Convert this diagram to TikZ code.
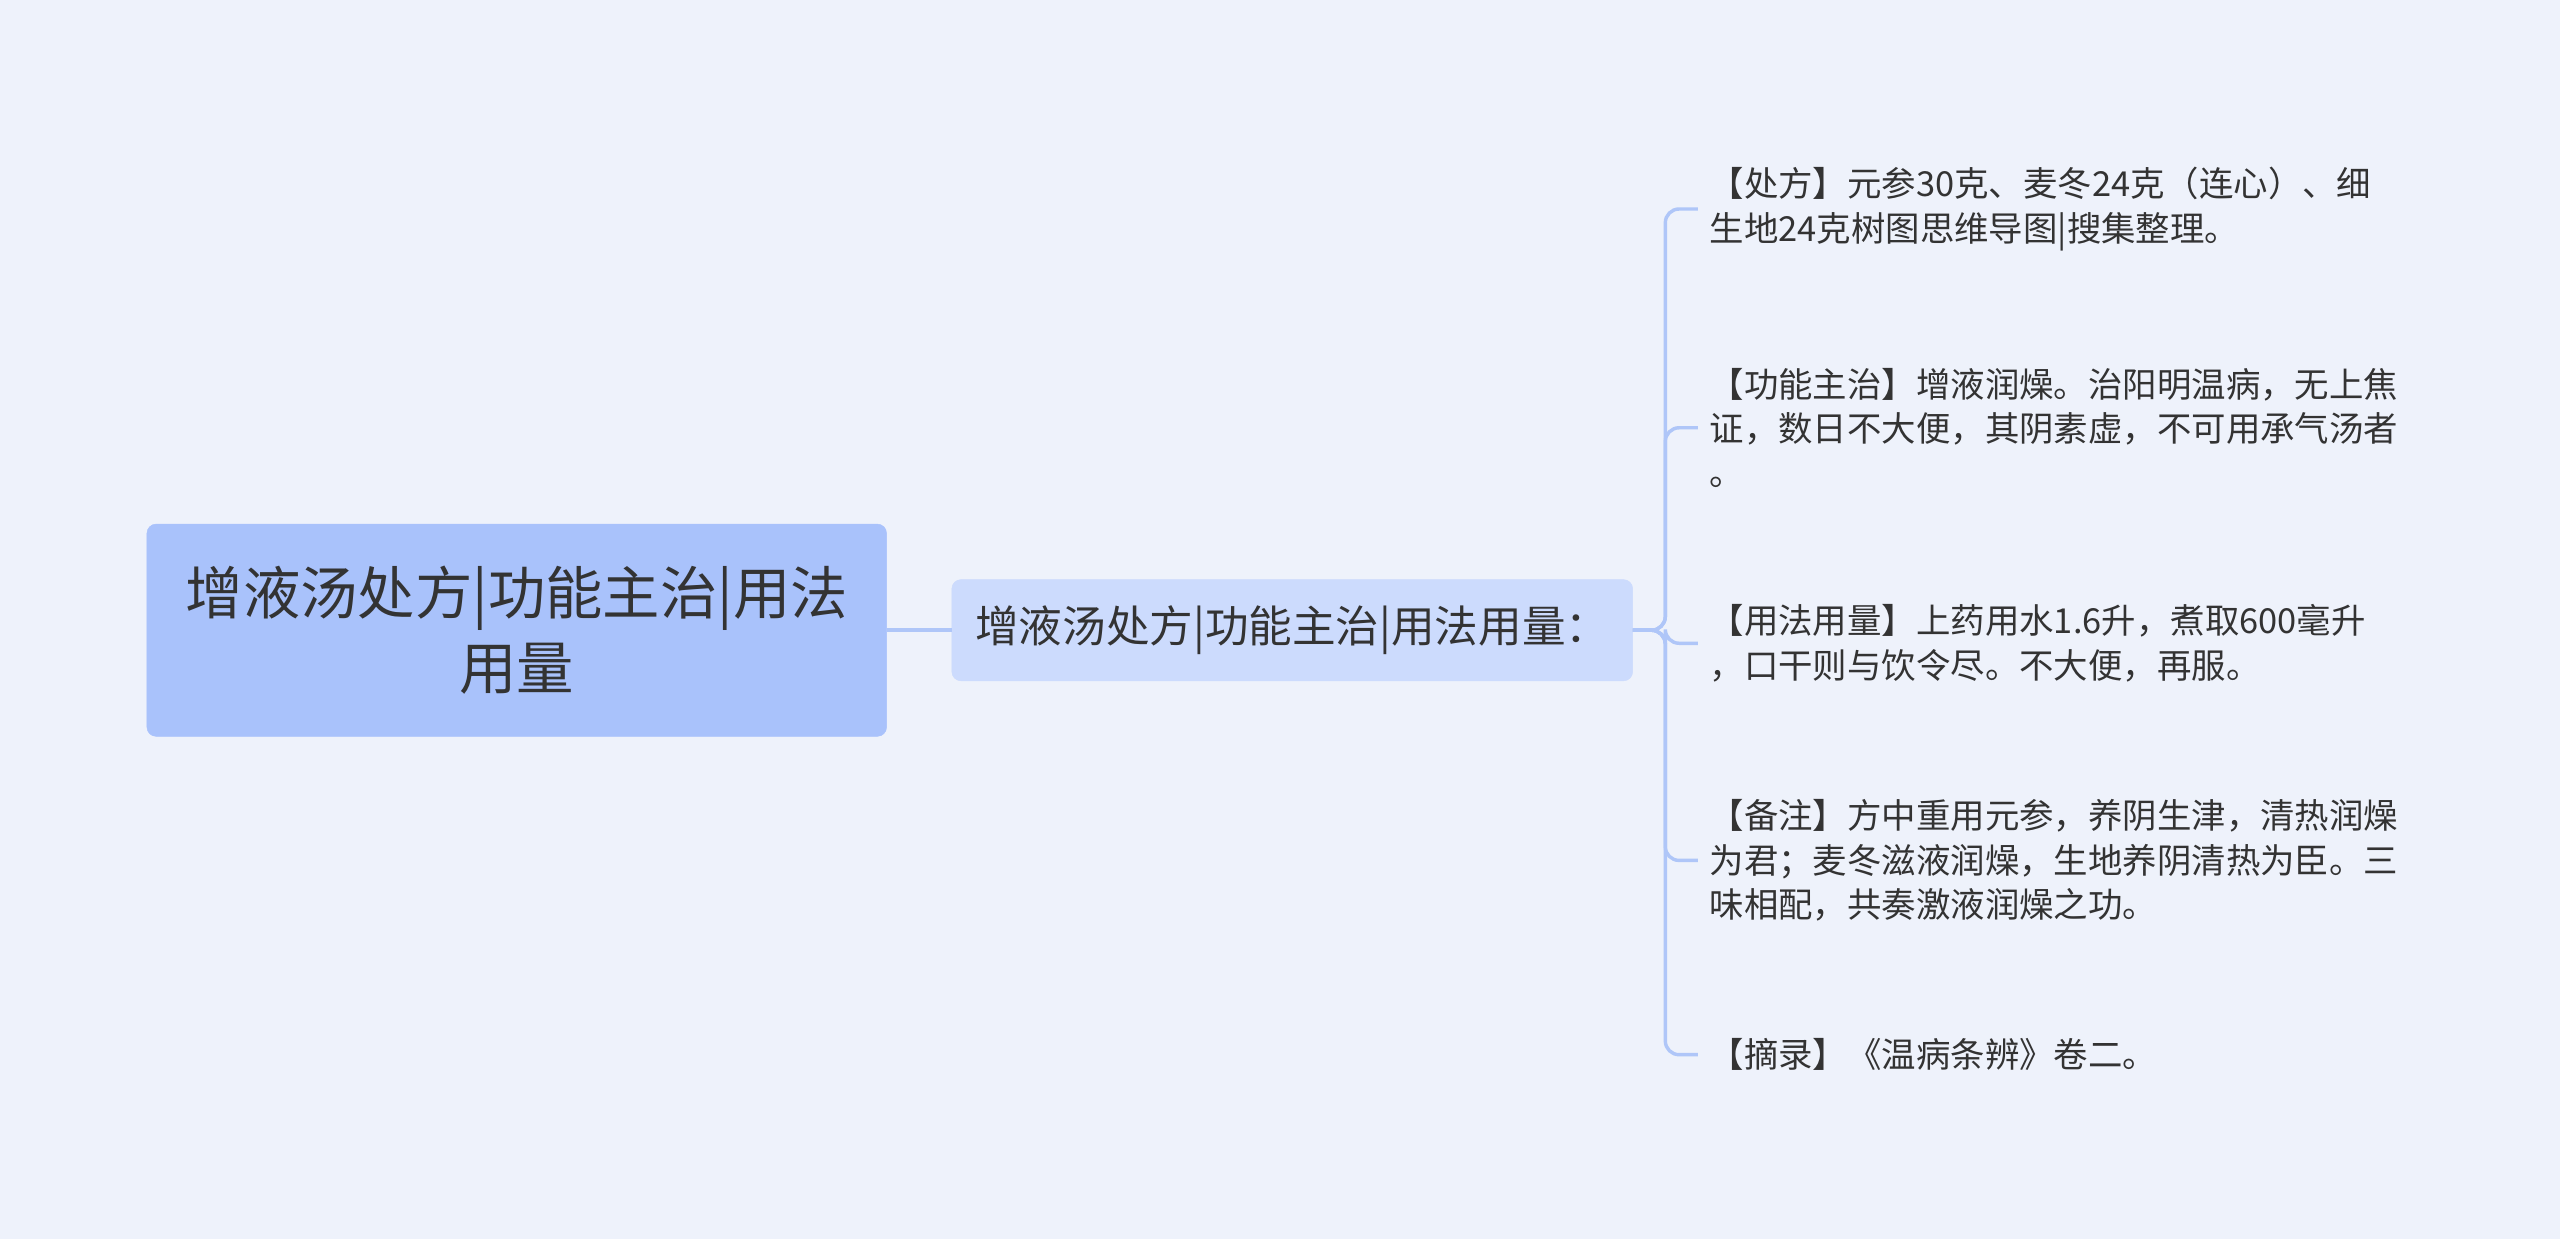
\documentclass[tikz,border=0pt]{standalone}
\usepackage{fontspec}
\setmainfont{Noto Sans CJK SC}
\definecolor{bg}{HTML}{EEF2FB}
\definecolor{rootc}{HTML}{A9C2FB}
\definecolor{midc}{HTML}{CCDBFD}
\definecolor{linec}{HTML}{AFC6F8}
\definecolor{txt}{HTML}{333333}
\begin{document}
\begin{tikzpicture}[x=0.05cm,y=-0.05cm,
  rootbox/.style={fill=rootc,draw=rootc,rounded corners=8pt,minimum width=453*0.05cm,minimum height=130*0.05cm,align=center,text=txt,font=\fontsize{50}{65}\selectfont},
  midbox/.style={fill=midc,draw=midc,rounded corners=8pt,minimum width=417*0.05cm,minimum height=62*0.05cm,text=txt,font=\fontsize{38}{44}\selectfont},
  leaf/.style={anchor=west,align=left,text=txt,inner xsep=10pt,inner ysep=2pt,font=\fontsize{30}{38.5}\selectfont},
  conn/.style={draw=linec,line width=3pt}]
\fill[bg] (0,0) rectangle (1568,759);
\useasboundingbox (0,0) rectangle (1568,759);
\node[rootbox] (root) at (316.5,386) {增液汤处方|功能主治|用法\\用量};
\node[midbox] (mid) at (791.5,386) {增液汤处方|功能主治|用法用量：};
\node[leaf] (l1) at (1040,128) {【处方】元参30克、麦冬24克（连心）、细\\生地24克树图思维导图|搜集整理。};
\node[leaf] (l2) at (1040,262) {【功能主治】增液润燥。治阳明温病，无上焦\\证，数日不大便，其阴素虚，不可用承气汤者\\。};
\node[leaf] (l3) at (1040,394) {【用法用量】上药用水1.6升，煮取600毫升\\，口干则与饮令尽。不大便，再服。};
\node[leaf] (l4) at (1040,527) {【备注】方中重用元参，养阴生津，清热润燥\\为君；麦冬滋液润燥，生地养阴清热为臣。三\\味相配，共奏激液润燥之功。};
\node[leaf] (l5) at (1040,646) {【摘录】《温病条辨》卷二。};
\draw[conn] (root.east) -- (mid.west);
\coordinate (sp) at (1020,386);
\foreach \n in {l1,l2,l3,l4,l5}
  \draw[conn,rounded corners=12pt] (mid.east) -- (sp) -- (sp |- \n.west) -- (\n.west);
\end{tikzpicture}
\end{document}
